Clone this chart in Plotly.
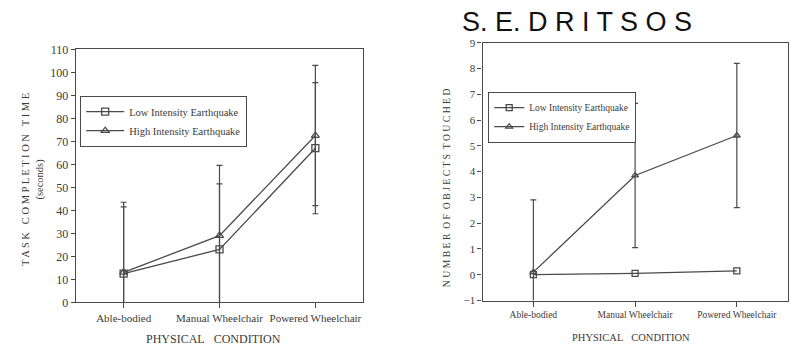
import plotly.graph_objects as go

conditions = ["Able-bodied", "Manual Wheelchair", "Powered Wheelchair"]

# Left panel: task completion time (seconds)
time_low = [12.5, 23.0, 67.0]
time_low_err = [29.0, 28.5, 28.5]
time_high = [13.0, 29.0, 72.5]
time_high_err = [30.5, 30.5, 30.5]

# Right panel: number of objects touched
obj_low = [0.0, 0.05, 0.15]
obj_high = [0.1, 3.85, 5.4]
obj_high_err = [2.8, 2.8, 2.8]

series_names = ["Low Intensity Earthquake", "High Intensity Earthquake"]

INK = "#4a4a4a"
TXT = "#3a3a3a"
SERIF = "Liberation Serif, Times New Roman, serif"

fig = go.Figure()

def err(vals):
    return dict(type="data", array=vals, visible=True, color=INK, thickness=1.2, width=3)

fig.add_trace(go.Scatter(x=conditions, y=time_low, name=series_names[0], mode="lines+markers",
                         line=dict(color=INK, width=1.3),
                         marker=dict(symbol="square-open", size=7, color=INK, line=dict(width=1.3)),
                         error_y=err(time_low_err), xaxis="x", yaxis="y", legend="legend"))
fig.add_trace(go.Scatter(x=conditions, y=time_high, name=series_names[1], mode="lines+markers",
                         line=dict(color=INK, width=1.3),
                         marker=dict(symbol="triangle-up-open", size=7, color=INK, line=dict(width=1.3)),
                         error_y=err(time_high_err), xaxis="x", yaxis="y", legend="legend"))

fig.add_trace(go.Scatter(x=conditions, y=obj_low, name=series_names[0], mode="lines+markers",
                         line=dict(color=INK, width=1.3),
                         marker=dict(symbol="square-open", size=6, color=INK, line=dict(width=1.3)),
                         xaxis="x2", yaxis="y2", legend="legend2"))
fig.add_trace(go.Scatter(x=conditions, y=obj_high, name=series_names[1], mode="lines+markers",
                         line=dict(color=INK, width=1.3),
                         marker=dict(symbol="triangle-up-open", size=6, color=INK, line=dict(width=1.3)),
                         error_y=err(obj_high_err), xaxis="x2", yaxis="y2", legend="legend2"))

# page body has an 8px margin, so the figure is sized to fit inside the window
OFF = 8
W, H = 797 - OFF, 346 - OFF
def px(x): return (x - OFF) / W
def py(y): return 1 - (y - OFF) / H

axis_common = dict(showline=True, mirror=True, linecolor=INK, linewidth=1.2, automargin=False,
                   ticks="outside", tickcolor=INK, showgrid=False, zeroline=False)

nb = "\u00a0"

def label(text, x, y, size, angle=0, family=SERIF, color=TXT):
    return dict(text=text, x=px(x), y=py(y), xref="paper", yref="paper",
                xanchor="center", yanchor="middle", showarrow=False, textangle=angle,
                font=dict(family=family, size=size, color=color))

fig.update_layout(
    width=W, height=H,
    margin=dict(l=0, r=0, t=0, b=0),
    paper_bgcolor="white", plot_bgcolor="white",
    font=dict(family=SERIF, color=TXT),
    xaxis=dict(domain=[px(75.7), px(363.3)], anchor="y", type="category",
               range=[-0.5, 2.5], ticklen=5, tickfont=dict(size=11), **axis_common),
    yaxis=dict(domain=[py(302.3), py(49.3)], anchor="x", range=[0, 110], dtick=10,
               ticklen=4, tickfont=dict(size=12), **axis_common),
    xaxis2=dict(domain=[px(482.5), px(787.7)], anchor="y2", type="category",
                range=[-0.5, 2.5], ticklen=5, tickfont=dict(size=9.5), **axis_common),
    yaxis2=dict(domain=[py(300.5), py(42.7)], anchor="x2", range=[-1, 9], dtick=1,
                ticklen=4, tickfont=dict(size=11), **axis_common),
    legend=dict(x=px(80), y=py(96), xanchor="left", yanchor="top", itemwidth=38,
                bordercolor=INK, borderwidth=1.2, bgcolor="white",
                font=dict(size=10.5, family=SERIF, color=TXT), tracegroupgap=0),
    legend2=dict(x=px(488), y=py(92), xanchor="left", yanchor="top",
                 bordercolor=INK, borderwidth=1.2, bgcolor="white",
                 font=dict(size=9.5, family=SERIF, color=TXT), tracegroupgap=0),
    annotations=[
        label("S. E. D R I T S O S", 576.5, 22, 27, family="Liberation Sans, Arial, sans-serif", color="#111111"),
        label(f"PHYSICAL{nb*3}CONDITION", 213, 339, 12),
        label(f"PHYSICAL{nb*3}CONDITION", 631, 337, 10.5),
        label(f"T A S K{nb*3}C O M P L E T I O N{nb*3}T I M E<br>(seconds)", 33, 180, 10.5, angle=-90),
        label(f"N U M B E R{nb*2}O F{nb*2}O B J E C T S{nb*2}T O U C H E D", 446.7, 187.5, 9.7, angle=-90),
    ],
)

fig.write_html("out.html")
